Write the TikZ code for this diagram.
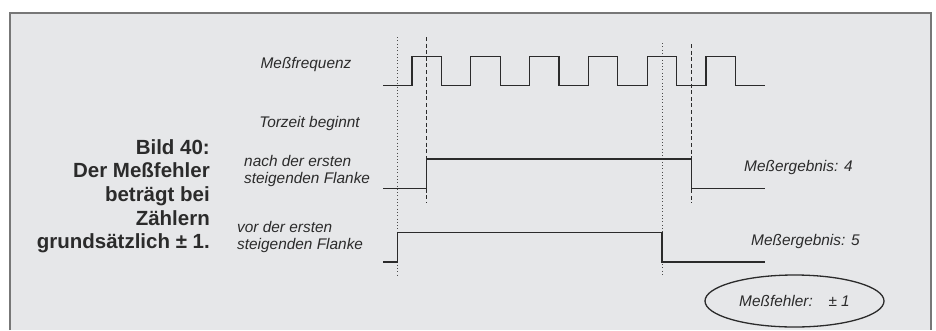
\documentclass[tikz,border=0pt]{standalone}
\usepackage{fontspec}
\setmainfont{Liberation Sans}
\usetikzlibrary{shapes.geometric}

\definecolor{rahmengrau}{HTML}{E6E7E9}
\definecolor{rahmenlinie}{HTML}{777777}
\definecolor{tinte}{HTML}{2B2B2B}

\tikzset{
  signal/.style={draw=tinte, line width=1.3pt, line join=miter},
  punktlinie/.style={draw=tinte!85, line width=0.9pt, dash pattern=on 0.9pt off 2.4pt},
  strichlinie/.style={draw=tinte, line width=0.9pt, dash pattern=on 4pt off 2.6pt},
  beschriftung/.style={font=\fontsize{15.4}{17}\selectfont\itshape, text=tinte, inner sep=0pt},
  titel/.style={font=\fontsize{20.5}{23.7}\selectfont\bfseries, text=tinte, inner sep=0pt},
}

\begin{document}
\begin{tikzpicture}[x=1pt, y=-1pt]
  \useasboundingbox (0,0) rectangle (936,330);

  % Rahmen
  \fill[rahmengrau] (10,13) rectangle (931,330);
  \draw[rahmenlinie, line width=1.3pt] (10,330) -- (10,13) -- (931,13) -- (931,330);

  % Zeitmarken (gepunktet: vor, gestrichelt: nach der Flanke)
  \draw[punktlinie]  (397.7,37) -- (397.7,277);
  \draw[strichlinie] (426.7,37) -- (426.7,203);
  \draw[punktlinie]  (662,43)   -- (662,277);
  \draw[strichlinie] (691.7,44) -- (691.7,203);

  % Meßfrequenz
  \draw[signal] (383,85.7) foreach \i in {0,...,5} {
      -- ({412+58.8*\i},85.7) -- ({412+58.8*\i},56.3)
      -- ({441.4+58.8*\i},56.3) -- ({441.4+58.8*\i},85.7) } -- (765,85.7);

  % Torzeit nach der ersten steigenden Flanke
  \draw[signal] (383,188.7) -- (426.7,188.7) -- (426.7,159)
                -- (691.7,159) -- (691.7,188.7) -- (765,188.7);

  % Torzeit vor der ersten steigenden Flanke
  \draw[signal] (383,262) -- (397.7,262) -- (397.7,232.3)
                -- (662,232.3) -- (662,262) -- (765,262);

  % Beschriftungen
  \node[beschriftung] (mf) at (306,65) {Meßfrequenz};
  \node[beschriftung] (tz) at (309.5,124) {Torzeit beginnt};
  \node[beschriftung, align=left, anchor=west] (nach) at (244,171)
    {nach der ersten\\steigenden Flanke};
  \node[beschriftung, align=left, anchor=west] (vor) at (237,237.5)
    {vor der ersten\\steigenden Flanke};
  \node[beschriftung, anchor=west] (erg4) at (744,168) {Meßergebnis: 4};
  \node[beschriftung, anchor=west] (erg5) at (751,242) {Meßergebnis: 5};

  % Meßfehler
  \node[beschriftung, ellipse, draw=tinte, line width=1.3pt,
        minimum width=179pt, minimum height=52pt] (fehler) at (794.5,301)
    {Meßfehler:\hspace{10pt} ± 1\hspace{19pt}};

  % Bildunterschrift
  \foreach \zeile [count=\i] in {Bild 40:, Der Meßfehler, beträgt bei, Zählern, grundsätzlich ± 1.}
    \node[titel, anchor=base east] (titel\i) at (210,{154+23.7*(\i-1)}) {\zeile};
\end{tikzpicture}
\end{document}
